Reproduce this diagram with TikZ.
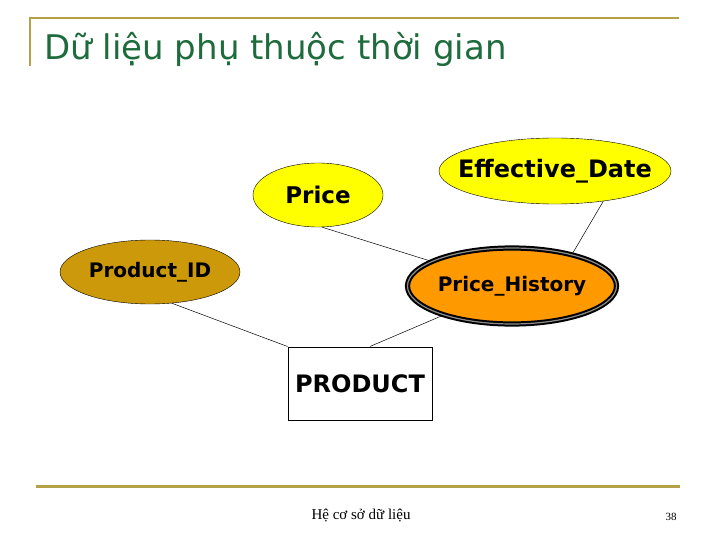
\documentclass[tikz,border=0pt]{standalone}
\usepackage{fontspec}
\setmainfont{DejaVu Sans}
\newfontfamily\footfont{Liberation Serif}
\usetikzlibrary{shapes.geometric}
\definecolor{titlegreen}{HTML}{1E6B3C}
\definecolor{rulegold}{HTML}{B4A046}
\definecolor{attryellow}{HTML}{FFFF00}
\definecolor{keygold}{HTML}{CC990A}
\definecolor{historange}{HTML}{FF9900}

\begin{document}
\begin{tikzpicture}[
    x=1pt,y=-1pt,
    attr/.style={ellipse,draw=black,thin,inner sep=0pt,
        font=\bfseries\fontsize{23}{25}\selectfont},
    link/.style={draw=black,line width=0.5pt},
    goldrule/.style={draw=rulegold,line cap=rect}
]
    \useasboundingbox (0,0) rectangle (720,540);
    \draw[goldrule,line width=2pt] (30,65) -- (30,18) -- (678,18);
    \node[anchor=base west,text=titlegreen,inner sep=0pt,
        font=\fontsize{34}{38}\selectfont] (title) at (44,60)
        {Dữ liệu phụ thuộc thời gian};

    \node[attr,fill=attryellow,minimum width=130,minimum height=64]
        (price) at (318,195) {Price};
    \node[attr,fill=attryellow,minimum width=232,minimum height=66,
        inner xsep=-17pt,font=\bfseries\fontsize{24}{26}\selectfont]
        (effdate) at (555,171) {Effective\_Date};
    \node[attr,fill=keygold,minimum width=180,minimum height=64,
        inner xsep=-8pt,font=\bfseries\fontsize{20}{22}\selectfont]
        (prodid) at (150,272) {Product\_ID};
    \node[attr,fill=historange,minimum width=209,minimum height=76,
        inner xsep=-8pt,line width=2pt,double=black!45,double distance=1.2pt,
        font=\bfseries\fontsize{20}{22}\selectfont]
        (history) at (512,286) {Price\_History};
    \node[draw=black,line width=1pt,minimum width=144,minimum height=73,
        inner sep=0pt,font=\bfseries\fontsize{24}{26}\selectfont]
        (product) at (360,383.5) {PRODUCT};

    \draw[link] (price.-83) -- (history.163);
    \draw[link] (effdate.-32) -- (history.28);
    \draw[link] (prodid.-55) -- (product.north west);
    \draw[link] (history.203) -- (product.75);

    \draw[goldrule,line width=3pt] (37,486) -- (678,486);
    \node[font=\footfont\fontsize{15}{17}\selectfont,inner sep=0pt]
        (footer) at (361,516) {Hệ cơ sở dữ liệu};
    \node[font=\footfont\fontsize{11}{13}\selectfont,inner sep=0pt]
        (pagenum) at (671,517) {38};
\end{tikzpicture}
\end{document}
